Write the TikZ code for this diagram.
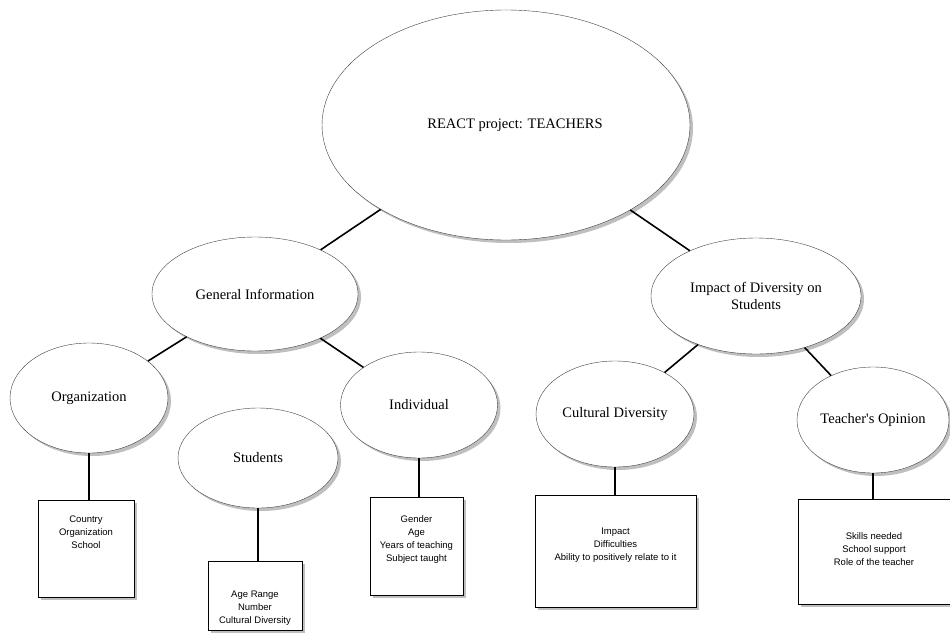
\documentclass[tikz,border=0pt]{standalone}
\usepackage{fontspec}
\setmainfont{Liberation Serif}
\newfontfamily\listfont{Liberation Sans}
\usetikzlibrary{shapes.geometric,shadows,positioning}
\tikzstyle{topic} = [ellipse, draw=black!75, fill=white, inner sep=0pt, align=center, font=\fontsize{14.5}{17}\selectfont, drop shadow={shadow xshift=3pt, shadow yshift=-3pt, fill=black!50}]
\tikzstyle{item} = [rectangle, draw=black, fill=white, inner sep=0pt, drop shadow={shadow xshift=2.5pt, shadow yshift=-2.5pt, fill=black!50}]
\tikzstyle{itemtext} = [align=center, inner sep=0pt, font=\listfont\fontsize{9.5}{13}\selectfont]
\tikzstyle{link} = [line width=1.6pt, black]

\begin{document}
\begin{tikzpicture}[x=1pt, y=1pt]
    \useasboundingbox (0,0) rectangle (950,-632);
    \node (Main) [topic, minimum width=368pt, minimum height=230pt] at (506,-125) {\hspace*{18pt}REACT project: TEACHERS};
    \node (GenInfo) [topic, minimum width=206pt, minimum height=114pt] at (255,-294) {General Information};
    \node (Impact) [topic, minimum width=210pt, minimum height=116pt] at (756,-296) {Impact of Diversity on\\Students};
    \node (Org) [topic, minimum width=158pt, minimum height=110pt] at (89,-398) {Organization};
    \node (Stud) [topic, minimum width=160pt, minimum height=100pt] at (258,-458) {Students};
    \node (Indiv) [topic, minimum width=157pt, minimum height=106pt] at (419,-405) {Individual};
    \node (CultDiv) [topic, minimum width=158pt, minimum height=106pt] at (615,-414) {Cultural Diversity};
    \node (Opinion) [topic, minimum width=152pt, minimum height=106pt] at (873,-420) {Teacher\textquotesingle s Opinion};
    \node (OrgBox) [item, minimum width=96pt, minimum height=97pt] at (86,-548.5) {};
    \node (StudBox) [item, minimum width=94pt, minimum height=69pt] at (255,-595.5) {};
    \node (IndivBox) [item, minimum width=93pt, minimum height=98pt] at (416.5,-546) {};
    \node (CultBox) [item, minimum width=161pt, minimum height=112pt] at (615.5,-551) {};
    \node (OpinBox) [item, minimum width=152pt, minimum height=105pt] at (874,-551.5) {};
    \node (OrgList) [itemtext, below=16pt of OrgBox.north] {Country\\Organization\\School};
    \node (StudList) [itemtext, below=30pt of StudBox.north] {Age Range\\Number\\Cultural Diversity};
    \node (IndivList) [itemtext, below=19pt of IndivBox.north] {Gender\\Age\\Years of teaching\\Subject taught};
    \node (CultList) [itemtext, below=33pt of CultBox.north] {Impact\\Difficulties\\Ability to positively relate to it};
    \node (OpinList) [itemtext, below=34pt of OpinBox.north] {Skills needed\\School support\\Role of the teacher};
    \draw[link] (Main) -- (GenInfo);
    \draw[link] (Main) -- (Impact);
    \draw[link] (GenInfo) -- (Org);
    \draw[link] (GenInfo) -- (Indiv);
    \draw[link] (Impact) -- (CultDiv);
    \draw[link] (Impact) -- (Opinion);
    \draw[link] (Org) -- (Org |- OrgBox.north);
    \draw[link] (Stud) -- (Stud |- StudBox.north);
    \draw[link] (Indiv) -- (Indiv |- IndivBox.north);
    \draw[link] (CultDiv) -- (CultDiv |- CultBox.north);
    \draw[link] (Opinion) -- (Opinion |- OpinBox.north);
\end{tikzpicture}
\end{document}
